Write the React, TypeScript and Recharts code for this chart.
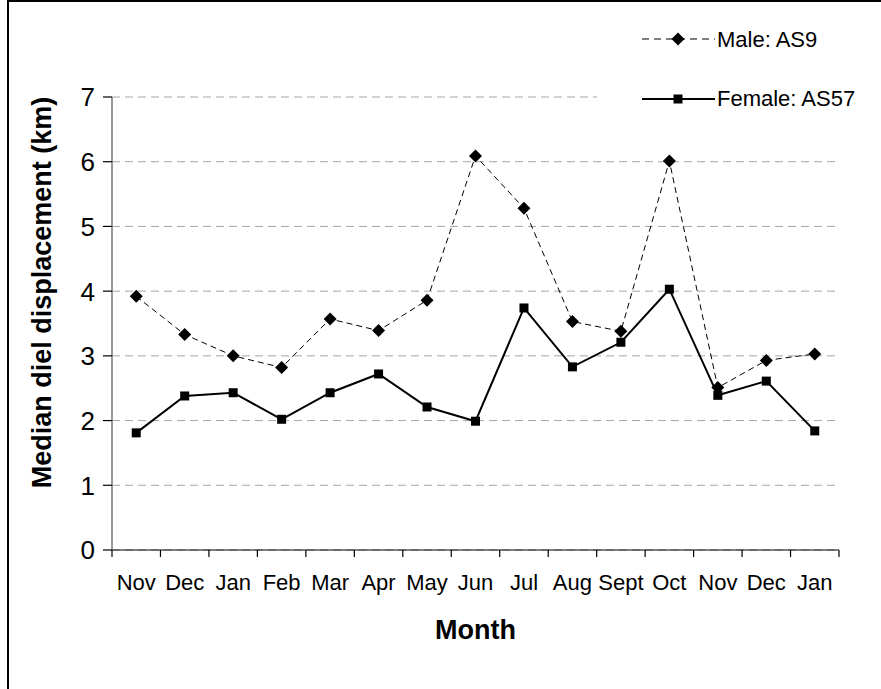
import React from "react";
import { LineChart, Line, XAxis, YAxis, CartesianGrid } from "recharts";

const months = ["Nov", "Dec", "Jan", "Feb", "Mar", "Apr", "May", "Jun", "Jul", "Aug", "Sept", "Oct", "Nov", "Dec", "Jan"];
const male = [3.92, 3.33, 3.0, 2.82, 3.57, 3.39, 3.86, 6.09, 5.28, 3.53, 3.38, 6.01, 2.51, 2.93, 3.03];
const female = [1.81, 2.38, 2.43, 2.02, 2.43, 2.72, 2.21, 1.99, 3.74, 2.83, 3.21, 4.03, 2.39, 2.61, 1.84];
const yTicks = [0, 1, 2, 3, 4, 5, 6, 7];
const seriesNames = { male: "Male: AS9", female: "Female: AS57" };

const data = months.map((m, i) => ({ month: m, male: male[i], female: female[i] }));

const FONT = "Arial, 'Liberation Sans', sans-serif";
const PLOT_W = 727;
const HALF_BAND = PLOT_W / months.length / 2;

const Diamond = (props: any) => {
  const { cx, cy } = props;
  if (cx == null || cy == null) return null;
  const r = 6.5;
  return <polygon points={`${cx},${cy - r} ${cx + r},${cy} ${cx},${cy + r} ${cx - r},${cy}`} fill="#000" stroke="none" />;
};

const Square = (props: any) => {
  const { cx, cy } = props;
  if (cx == null || cy == null) return null;
  const s = 9;
  return <rect x={cx - s / 2} y={cy - s / 2} width={s} height={s} fill="#000" stroke="none" />;
};

const XTick = (props: any) => {
  const { x, y, payload, index } = props;
  const hb = HALF_BAND;
  return (
    <g>
      <line x1={x - hb} y1={y} x2={x - hb} y2={y + 7} stroke="#000" strokeWidth={1.2} />
      {index === months.length - 1 && (
        <line x1={x + hb} y1={y} x2={x + hb} y2={y + 7} stroke="#000" strokeWidth={1.2} />
      )}
      <text x={x} y={y + 40} textAnchor="middle" fontFamily={FONT} fontSize={22} fill="#000">
        {payload.value}
      </text>
    </g>
  );
};

const YTick = (props: any) => {
  const { x, y, payload } = props;
  return (
    <text x={x - 6} y={y} dy="0.36em" textAnchor="end" fontFamily={FONT} fontSize={26} fill="#000">
      {payload.value}
    </text>
  );
};

const YTitle = (props: any) => {
  const vb = props.viewBox || { x: 0, y: 97, width: 112, height: 453 };
  const cx = vb.x + 42;
  const cy = vb.y + vb.height / 2 - 31;
  return (
    <text x={cx} y={cy} transform={`rotate(-90 ${cx} ${cy})`} textAnchor="middle" dominantBaseline="central" fontFamily={FONT} fontWeight="bold" fontSize={27} fill="#000">
      Median diel displacement (km)
    </text>
  );
};

const XTitle = (props: any) => {
  const vb = props.viewBox || { x: 112, y: 550, width: 727, height: 139 };
  const cx = vb.x + vb.width / 2;
  return (
    <text x={cx} y={vb.y + 89} textAnchor="middle" fontFamily={FONT} fontWeight="bold" fontSize={27} fill="#000">
      Month
    </text>
  );
};

const LegendBox = () => (
  <div style={{ position: "absolute", left: 597, top: 10, width: 284, height: 110, background: "#fff" }}>
    <svg width={284} height={110} style={{ position: "absolute", left: 0, top: 0 }}>
      <line x1={45} y1={29} x2={118} y2={29} stroke="#000" strokeWidth={1} strokeDasharray="7 5" />
      <polygon points="81,22.5 87.5,29 81,35.5 74.5,29" fill="#000" />
      <text x={120} y={36.5} fontFamily={FONT} fontSize={22} fill="#000">{seriesNames.male}</text>
      <line x1={45} y1={89} x2={118} y2={89} stroke="#000" strokeWidth={2} />
      <rect x={76.5} y={84.5} width={9} height={9} fill="#000" />
      <text x={120} y={96} fontFamily={FONT} fontSize={22} fill="#000">{seriesNames.female}</text>
    </svg>
  </div>
);

export default function App() {
  return (
    <div style={{ position: "fixed", left: 0, top: 0, width: 881, height: 689, overflow: "hidden", background: "#fff" }}>
      <div style={{ position: "absolute", left: 7, top: 0, width: 900, height: 720, border: "2px solid #000", boxSizing: "border-box" }} />
      <div style={{ position: "absolute", left: 0, top: 0 }}>
        <LineChart width={881} height={689} data={data} margin={{ top: 97, right: 42, bottom: 0, left: 0 }}>
          <CartesianGrid vertical={false} stroke="#a6a6a6" strokeDasharray="8 5" />
          <XAxis
            dataKey="month"
            type="category"
            allowDuplicatedCategory={true}
            interval={0}
            height={139}
            padding={{ left: HALF_BAND, right: HALF_BAND }}
            tickLine={false}
            tickSize={0}
            tickMargin={0}
            tick={<XTick />}
            axisLine={{ stroke: "#000", strokeWidth: 1.2 }}
            label={<XTitle />}
          />
          <YAxis
            type="number"
            domain={[0, 7]}
            ticks={yTicks}
            width={112}
            tickSize={9}
            tickLine={{ stroke: "#000", strokeWidth: 1.2 }}
            axisLine={{ stroke: "#555", strokeWidth: 1.2 }}
            tick={<YTick />}
            label={<YTitle />}
          />
          <Line
            type="linear"
            dataKey="male"
            name={seriesNames.male}
            stroke="#000"
            strokeWidth={1}
            strokeDasharray="6 4"
            dot={<Diamond />}
            activeDot={false}
            isAnimationActive={false}
          />
          <Line
            type="linear"
            dataKey="female"
            name={seriesNames.female}
            stroke="#000"
            strokeWidth={2}
            dot={<Square />}
            activeDot={false}
            isAnimationActive={false}
          />
        </LineChart>
      </div>
      <LegendBox />
    </div>
  );
}
